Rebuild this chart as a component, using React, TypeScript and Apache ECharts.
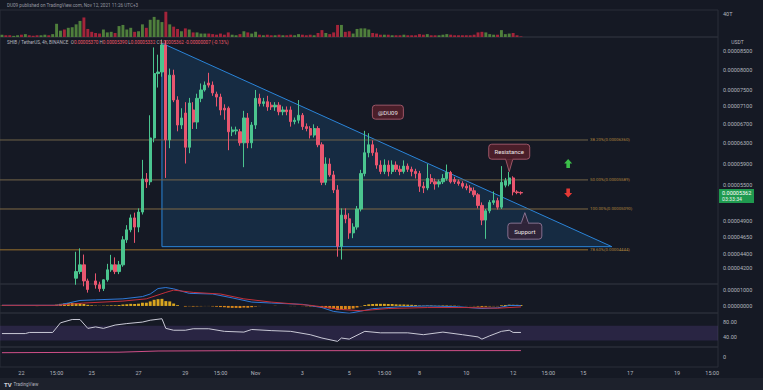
import React, { useEffect, useRef } from "react";
import * as echarts from "echarts";

const W = 763;
const H = 390;
const PLOT_W = 718;
const BG = "#151924";
const FOOTER_BG = "#1d212c";
const BORDER = "#2a2e39";
const TEXT = "#b2b5be";
const FONT = "Roboto, 'Noto Sans', sans-serif";
const UP = "#4bc58f";
const DOWN = "#e9566f";
const VOL_UP = "#4f7f3c";
const VOL_DOWN = "#a3243a";

// prices are listed in millionths of USDT
const UNIT = 1e-6;
const N_SLOTS = 184;
const START_UTC = Date.UTC(2021, 9, 21, 4);

const OPEN = [
  29.8, 30.0, 29.9, 29.7, 30.0, 30.2, 30.1, 30.6, 30.4, 30.3, 30.1, 30.3, 30.6, 30.5,
  31.0, 35.0, 36.4, 36.0, 37.5, 40.66, 41.54, 42.46, 40.3, 39.2, 40.3, 39.8, 39.3,
  40.45, 41.78, 42.46, 41.54, 42.46, 46.05, 47.57, 49.45, 48.0, 50.4, 56.1, 55.6, 64.1,
  79.0, 79.4, 86.7, 63.7, 78.6, 72.5, 66.85, 69.5, 62.2, 70.2, 67.5, 72.9, 74.9, 76.6,
  76.1, 73.9, 73.2, 70.6, 70.6, 65.4, 65.6, 65.4, 63.1, 68.4, 63.1, 66.85, 72.9, 71.7,
  72.1, 71.3, 70.9, 71.3, 69.8, 70.2, 70.2, 67.6, 67.9, 69.0, 66.5, 66.1, 64.7, 66.1,
  62.7, 55.5, 58.9, 56.85, 54.15, 45.1, 49.9, 49.3, 47.1, 48.0, 50.9, 57.1, 61.1, 62.7,
  61.1, 58.7, 57.5, 58.7, 57.5, 58.7, 57.9, 57.5, 58.5, 57.9, 57.5, 57.1, 54.8, 54.5,
  56.2, 55.6, 55.2, 55.6, 56.2, 57.3, 56.0, 55.6, 55.3, 54.8, 54.5, 54.0, 53.3, 51.5,
  49.1, 50.6, 52.0, 52.3, 51.2, 55.0, 55.2, 56.3, 53.8, 53.70,
];
const HIGH = [
  30.3, 30.4, 30.2, 30.1, 30.5, 30.6, 30.8, 30.9, 30.7, 30.6, 30.5, 30.8, 31.0, 31.2,
  35.6, 36.8, 37.0, 37.8, 39.8, 44.3, 44.8, 43.9, 40.6, 39.7, 41.3, 40.2, 40.5,
  42.6, 43.86, 43.5, 43.0, 46.6, 48.3, 50.0, 50.3, 51.0, 59.7, 57.2, 69.0, 86.0,
  84.0, 88.2, 88.0, 80.3, 80.0, 73.4, 70.6, 72.0, 73.0, 72.0, 74.0, 76.5, 77.0, 79.2,
  77.0, 74.5, 74.0, 71.5, 71.0, 66.5, 66.5, 66.0, 70.0, 69.5, 67.5, 74.9, 74.0, 73.0,
  73.5, 72.0, 72.0, 72.0, 71.0, 71.0, 71.0, 68.5, 72.5, 69.5, 67.2, 66.6, 67.0, 66.6,
  63.2, 60.2, 60.0, 57.6, 55.0, 51.0, 51.0, 50.2, 48.6, 51.4, 57.8, 65.6, 65.1, 63.6,
  62.0, 59.6, 59.8, 59.6, 59.6, 59.4, 58.6, 59.6, 59.0, 58.4, 58.0, 57.6, 55.6, 58.9,
  57.0, 56.2, 56.0, 57.0, 58.8, 57.6, 56.5, 56.0, 55.7, 55.3, 55.0, 54.6, 53.6, 52.0,
  50.9, 52.4, 53.9, 52.8, 58.5, 56.3, 57.4, 56.6, 54.1, 53.90,
];
const LOW = [
  29.5, 29.6, 29.4, 29.3, 29.8, 29.9, 30.0, 30.2, 30.0, 29.9, 29.8, 30.1, 30.3, 30.3,
  30.9, 34.5, 35.6, 35.8, 37.2, 39.8, 41.2, 39.6, 38.8, 38.2, 39.3, 38.9, 39.0,
  40.2, 41.5, 41.2, 41.2, 42.2, 45.6, 47.2, 45.6, 47.2, 50.0, 54.5, 55.0, 63.2,
  75.5, 78.2, 56.3, 62.0, 72.0, 65.5, 66.0, 59.0, 61.0, 66.0, 66.0, 72.0, 74.5, 75.5,
  73.5, 71.0, 69.0, 68.0, 61.6, 64.5, 64.8, 62.5, 58.3, 62.0, 62.0, 66.0, 71.0, 71.0,
  70.0, 70.2, 70.0, 69.0, 69.0, 69.0, 66.5, 67.0, 67.2, 65.8, 65.5, 64.0, 64.2, 62.2,
  55.0, 55.0, 56.5, 53.6, 43.6, 43.2, 48.6, 46.2, 46.3, 47.6, 50.5, 56.6, 60.2, 60.5,
  58.0, 57.0, 57.0, 56.6, 57.0, 57.4, 56.8, 57.1, 57.4, 56.6, 56.2, 53.8, 53.6, 54.1,
  55.2, 54.2, 54.6, 55.2, 55.8, 55.3, 55.2, 54.9, 54.4, 54.1, 53.6, 52.9, 51.0, 48.3,
  46.2, 50.2, 51.6, 50.8, 50.9, 54.6, 54.8, 53.2, 53.4, 53.32,
];
const CLOSE = [
  30.0, 29.9, 29.7, 30.0, 30.2, 30.1, 30.6, 30.4, 30.3, 30.1, 30.3, 30.6, 30.5, 31.0,
  35.0, 36.4, 36.0, 37.5, 39.4, 41.54, 42.46, 40.3, 39.2, 38.6, 39.8, 39.3, 40.45,
  41.78, 42.46, 41.54, 42.46, 46.05, 47.57, 49.45, 48.0, 50.4, 56.1, 55.6, 64.1, 79.0,
  79.4, 86.7, 63.7, 78.6, 72.5, 66.85, 68.4, 62.2, 71.8, 67.5, 72.9, 74.9, 76.1, 76.1,
  74.2, 73.2, 70.2, 70.2, 65.4, 65.8, 65.8, 63.1, 68.4, 63.1, 66.85, 72.9, 71.7, 72.1,
  70.9, 70.9, 71.3, 69.8, 70.2, 69.8, 67.6, 67.9, 69.0, 66.5, 66.1, 64.7, 66.1, 62.7,
  55.5, 58.9, 56.85, 54.15, 45.1, 49.9, 49.3, 47.1, 48.0, 50.9, 57.1, 61.1, 62.7, 61.1,
  58.7, 57.5, 58.7, 57.5, 58.7, 57.9, 57.5, 58.5, 57.9, 57.5, 57.1, 54.8, 54.5, 56.2,
  55.6, 55.2, 55.6, 56.2, 57.3, 55.6, 55.6, 55.3, 54.8, 54.5, 54.0, 53.3, 51.5, 49.1,
  50.6, 52.0, 52.3, 51.2, 55.5, 55.8, 56.3, 53.8, 53.69, 53.62,
];
// volume, trillions of SHIB
const VOLUME = [
  4, 3, 3, 2, 3, 4, 5, 3, 2, 3, 3, 4, 3, 5,
  23, 11, 13, 16, 17, 22, 28,
  34, 14, 9, 7, 6, 13, 8, 9, 7,
  19, 21, 13, 16, 9, 10, 22, 16, 30, 35,
  30, 26, 44, 22, 18, 14, 10, 15, 13, 8,
  8, 6, 6, 6, 5, 4, 6, 4, 8, 4,
  3, 5, 10, 8, 6, 9, 4, 3, 4, 3,
  3, 4, 3, 3, 4, 3, 5, 4, 3, 4,
  3, 7, 12, 7, 5, 8, 21, 21, 9, 10,
  6, 14, 15, 15, 13, 7, 6, 4, 4, 4,
  3, 3, 3, 4, 3, 3, 3, 5, 4, 5,
  3, 3, 3, 4, 5, 4, 3, 3, 3, 3,
  3, 4, 8, 9, 8, 5, 4, 4, 12, 5,
  6, 7, 3, 1,
];
// MACD values in units of 1e-5
const MACD_HIST = [
  0.01, 0, -0.01, 0, 0.01, 0, 0.01, 0, 0, -0.01, 0, 0.01, 0, 0.01,
  0.08, 0.13, 0.15, 0.18, 0.19, 0.18, 0.17,
  0.12, 0.07, 0.04, 0.02, 0.01, 0.02, 0.03, 0.04, 0.04,
  0.06, 0.09, 0.11, 0.13, 0.12, 0.14, 0.2, 0.2, 0.28, 0.38,
  0.42, 0.44, 0.3, 0.28, 0.15, 0.05, 0, -0.04, -0.02, -0.04,
  -0.03, -0.02, -0.01, -0.01, -0.03, -0.05, -0.07, -0.08, -0.11, -0.12,
  -0.12, -0.13, -0.1, -0.11, -0.08, -0.03, -0.01, 0, 0, 0,
  0.01, 0, 0, 0, -0.01, -0.01, 0, -0.01, -0.02, -0.03,
  -0.03, -0.06, -0.12, -0.13, -0.15, -0.18, -0.25, -0.22, -0.2, -0.2,
  -0.16, -0.1, -0.02, 0.06, 0.1, 0.12, 0.13, 0.13, 0.13, 0.12,
  0.12, 0.1, 0.09, 0.09, 0.08, 0.07, 0.06, 0.03, 0.02, 0.03,
  0.03, 0.02, 0.02, 0.03, 0.03, 0.02, 0.02, 0.01, 0, -0.01,
  -0.01, -0.02, -0.04, -0.06, -0.05, -0.03, -0.02, -0.02, 0.04, 0.06,
  0.08, 0.07, 0.07, 0.06,
];
const MACD_LINE: [number, number][] = [
  [0, 0.04], [14, 0.04], [17, 0.18], [20, 0.34], [24, 0.38], [31, 0.44], [36, 0.58],
  [38, 0.74], [40, 1.08], [42, 1.14], [44, 1.06], [48, 0.78], [54, 0.74], [59, 0.5],
  [64, 0.24], [69, 0.18], [77, 0.1], [82, -0.1], [85, -0.34], [89, -0.46], [92, -0.32],
  [95, -0.17], [102, -0.05], [109, 0], [117, -0.05], [123, -0.16], [127, -0.12],
  [130, 0.03], [133, 0.02],
];
const SIGNAL_LINE: [number, number][] = [
  [0, 0.04], [14, 0.04], [21, 0.18], [31, 0.3], [37, 0.44], [42, 0.84], [44, 0.98],
  [49, 0.84], [56, 0.74], [62, 0.44], [69, 0.24], [79, 0.04], [87, -0.22], [92, -0.3],
  [99, -0.16], [109, -0.1], [119, -0.1], [127, -0.14], [133, -0.06],
];
const RSI_POINTS: [number, number][] = [
  [0, 49], [6, 49], [7, 52], [13, 52], [15, 78], [18, 87], [20, 87], [22, 63], [24, 67],
  [26, 63], [29, 72], [32, 76], [36, 80], [38, 85], [41, 89], [42, 63], [44, 58], [47, 58],
  [49, 62], [53, 62], [57, 55], [62, 53], [64, 60], [69, 57], [74, 55], [79, 46], [82, 37],
  [86, 28], [87, 37], [89, 34], [93, 55], [97, 51], [104, 51], [108, 46], [113, 53],
  [118, 46], [122, 40], [123, 34], [125, 43], [128, 55], [130, 58], [131, 52], [133, 52],
];
const EXTRA_POINTS: [number, number][] = [[0, 4.3], [30, 4.8], [40, 6.0], [60, 6.3], [133, 6.4]];

const PRICE_TICKS = [85, 80, 75, 71, 67, 63, 59, 55, 49, 46.5, 44, 42];
const TIME_LABELS: [number, string][] = [
  [5, "22"], [14, "15:00"], [23, "25"], [35, "27"], [47, "29"], [56, "15:00"], [65, "Nov"],
  [77, "3"], [89, "5"], [98, "15:00"], [107, "8"], [119, "10"], [131, "12"], [140, "15:00"],
  [149, "15"], [161, "17"], [173, "19"], [182, "15:00"],
];

// drawing anchors (candle index, price)
const FIB_PRICES = [63.68, 55.94, 50.9, 44.58];
const FIB_TEXTS = ["38.20%(0.00006360)", "50.00%(0.00005589)", "100.00%(0.00005090)", "78.60%(0.00004444)"];
const FIB_END_INDEX = 150.2;
const TRI_START_INDEX = 41;
const TRI_END_INDEX = 156.3;
const TRI_TOP_PRICE = 87.2;
const TRI_BASE_PRICE = 45.04;
const RESIST_TIP: [number, number] = [130, 57.45];
const SUPPORT_TIP: [number, number] = [134, 50.3];
const TAG_AT: [number, number] = [98.9, 69.7];
const UP_ARROW_AT: [number, number] = [145.1, 59.0];
const DOWN_ARROW_AT: [number, number] = [145.1, 53.6];

const lg = (p: number) => Math.log(p * UNIT);
const pad = (n: number) => String(n).padStart(2, "0");
const fmt8 = (p: number) => (p * UNIT).toFixed(8);

function buildOption(): any {
  const cats = Array.from({ length: N_SLOTS }, (_, i) => {
    const d = new Date(START_UTC + i * 4 * 3600e3 + 3 * 3600e3);
    return `${d.getUTCFullYear()}-${pad(d.getUTCMonth() + 1)}-${pad(d.getUTCDate())} ${pad(d.getUTCHours())}:00`;
  });
  const labelMap = new Map<number, string>(TIME_LABELS);
  const candleData = OPEN.map((o, i) => [lg(o), lg(CLOSE[i]), lg(LOW[i]), lg(HIGH[i])]);
  const volData = VOLUME.map((v, i) => ({
    value: v,
    itemStyle: { color: CLOSE[i] >= OPEN[i] ? VOL_UP : VOL_DOWN },
  }));
  const histData = MACD_HIST.map((v) => ({
    value: v * 1e-5,
    itemStyle: { color: v >= 0 ? "#d9a620" : "#d9861a" },
  }));
  const lab = { color: TEXT, fontSize: 5.5, fontFamily: FONT, margin: 5 };
  const gridDefs = [
    { top: 10, height: 27 },
    { top: 37, height: 247 },
    { top: 284, height: 29 },
    { top: 313, height: 34 },
    { top: 347, height: 20 },
  ];
  const grid = gridDefs.map((g) => ({
    left: 0,
    width: PLOT_W,
    top: g.top,
    height: g.height,
    show: true,
    borderColor: BORDER,
    borderWidth: 1,
    backgroundColor: "transparent",
  }));
  const xAxis = gridDefs.map((_, k) => ({
    type: "category",
    gridIndex: k,
    data: cats,
    boundaryGap: true,
    axisLine: { show: false },
    axisTick: { show: false },
    splitLine: { show: false },
    axisLabel:
      k === 4
        ? {
            show: true,
            interval: (idx: number) => labelMap.has(idx),
            formatter: (_v: string, idx: number) => labelMap.get(idx) ?? "",
            color: TEXT,
            fontSize: 5.5,
            fontFamily: FONT,
            margin: 3,
            hideOverlap: false,
          }
        : { show: false },
  }));
  const baseY = {
    type: "value",
    position: "right",
    axisLine: { show: false },
    axisTick: { show: false },
    splitLine: { show: false },
  };
  const yAxis = [
    { ...baseY, gridIndex: 0, min: 0, max: 47, axisLabel: { ...lab, customValues: [40], formatter: (v: number) => `${v}T` } },
    {
      ...baseY,
      gridIndex: 1,
      min: lg(39.9),
      max: lg(88.96),
      axisLabel: { ...lab, customValues: PRICE_TICKS.map(lg), formatter: (v: number) => Math.exp(v).toFixed(8) },
    },
    {
      ...baseY,
      gridIndex: 2,
      min: -0.437e-5,
      max: 1.36e-5,
      axisLabel: { ...lab, customValues: [0, 1e-5], formatter: (v: number) => v.toFixed(8) },
    },
    { ...baseY, gridIndex: 3, min: 12.8, max: 104.5, axisLabel: { ...lab, customValues: [40, 80], formatter: (v: number) => v.toFixed(2) } },
    { ...baseY, gridIndex: 4, min: -10, max: 10, axisLabel: { ...lab, customValues: [0], formatter: () => "0" } },
  ];
  return {
    animation: false,
    backgroundColor: BG,
    grid,
    xAxis,
    yAxis,
    series: [
      { type: "bar", xAxisIndex: 0, yAxisIndex: 0, data: volData, barWidth: "75%", silent: true },
      {
        type: "candlestick",
        xAxisIndex: 1,
        yAxisIndex: 1,
        data: candleData,
        barWidth: "70%",
        clip: true,
        z: 5,
        itemStyle: { color: UP, color0: DOWN, borderColor: UP, borderColor0: DOWN, borderWidth: 1 },
      },
      { type: "bar", xAxisIndex: 2, yAxisIndex: 2, data: histData, barWidth: "75%", silent: true },
      {
        type: "line",
        xAxisIndex: 2,
        yAxisIndex: 2,
        data: MACD_LINE.map(([i, v]) => [i, v * 1e-5]),
        showSymbol: false,
        lineStyle: { color: "#2f7ad9", width: 1 },
      },
      {
        type: "line",
        xAxisIndex: 2,
        yAxisIndex: 2,
        data: SIGNAL_LINE.map(([i, v]) => [i, v * 1e-5]),
        showSymbol: false,
        lineStyle: { color: "#c4303a", width: 1 },
      },
      {
        type: "line",
        xAxisIndex: 3,
        yAxisIndex: 3,
        data: RSI_POINTS,
        showSymbol: false,
        lineStyle: { color: "#c9c9d6", width: 1 },
        markArea: {
          silent: true,
          itemStyle: { color: "rgba(126,87,194,0.2)" },
          data: [[{ yAxis: 30 }, { yAxis: 70 }]],
        },
      },
      {
        type: "line",
        xAxisIndex: 4,
        yAxisIndex: 4,
        data: EXTRA_POINTS,
        showSymbol: false,
        lineStyle: { color: "#cf4f88", width: 1 },
      },
    ],
  };
}

function txt(text: string, x: number, y: number, fill: string, size: number, align = "left", z = 50, extra: any = {}) {
  return {
    type: "text",
    z,
    silent: true,
    style: {
      text,
      x,
      y,
      fill,
      fontSize: size,
      fontFamily: FONT,
      align,
      textAlign: align,
      verticalAlign: "middle",
      textVerticalAlign: "middle",
      ...extra,
    },
  };
}

function buildGraphics(chart: any): any[] {
  const x0 = chart.convertToPixel({ xAxisIndex: 1 }, 0) as number;
  const x1 = chart.convertToPixel({ xAxisIndex: 1 }, 1) as number;
  const X = (i: number) => x0 + (x1 - x0) * i;
  const Y = (p: number) => chart.convertToPixel({ yAxisIndex: 1 }, lg(p)) as number;
  const g: any[] = [];

  // footer strip
  g.push({ type: "rect", silent: true, z: 1, shape: { x: 0, y: 378, width: W, height: 12 }, style: { fill: FOOTER_BG } });
  g.push(txt("TV", 4, 384, "#d1d4dc", 6, "left", 50, { fontWeight: "bold" }));
  g.push(txt("TradingView", 13.5, 384, "#b2b5be", 4.5));

  // header
  g.push(txt("DU09 published on TradingView.com, Nov 12, 2021 11:26 UTC+3", 7, 5, "#9598a1", 4.6));

  // legend
  const n = CLOSE.length - 1;
  const chg = CLOSE[n] - CLOSE[n - 1];
  const pct = (chg / CLOSE[n - 1]) * 100;
  const chgStr = `${chg < 0 ? "-" : "+"}${fmt8(Math.abs(chg))} (${pct < 0 ? "-" : "+"}${Math.abs(pct).toFixed(2)}%)`;
  const legend =
    `{g|SHIB / TetherUS, 4h, BINANCE}  {g|O}{r|${fmt8(OPEN[n])}} {g|H}{r|${fmt8(HIGH[n])}} ` +
    `{g|L}{r|${fmt8(LOW[n])}} {g|C}{r|${fmt8(CLOSE[n])}} {r|${chgStr}}`;
  g.push(
    txt(legend, 7, 42, TEXT, 4.6, "left", 50, {
      rich: {
        g: { fill: "#b2b5be", fontSize: 4.6, fontFamily: FONT },
        r: { fill: "#ef5a6a", fontSize: 4.6, fontFamily: FONT },
      },
    })
  );
  g.push(txt("USDT", 737.5, 42, TEXT, 5, "center"));

  // descending triangle
  const tl: [number, number] = [X(TRI_START_INDEX), Y(TRI_TOP_PRICE)];
  const bl: [number, number] = [X(TRI_START_INDEX), Y(TRI_BASE_PRICE)];
  const br: [number, number] = [X(TRI_END_INDEX), Y(TRI_BASE_PRICE)];
  g.push({
    type: "polygon",
    silent: true,
    z: 1,
    shape: { points: [tl, bl, br] },
    style: { fill: "rgba(33,150,243,0.15)", stroke: "#2a84d8", lineWidth: 1 },
  });

  // fib levels
  const fibColors = ["#6f6349", "#75664a", "#7f6a45", "#98702e"];
  FIB_PRICES.forEach((p, k) => {
    const y = Y(p);
    g.push({
      type: "line",
      silent: true,
      z: 2,
      shape: { x1: 0, y1: y, x2: X(FIB_END_INDEX), y2: y },
      style: { stroke: fibColors[k], lineWidth: 1 },
    });
    g.push(txt(FIB_TEXTS[k], X(FIB_END_INDEX) + 2, y, "#b0843c", 4.3));
  });

  // callouts
  const boxFill = "#4a1e29";
  const boxStroke = "#9c5566";
  const tag = [X(TAG_AT[0]), Y(TAG_AT[1])];
  g.push({ type: "rect", z: 60, silent: true, shape: { x: tag[0] - 15.5, y: tag[1] - 7, width: 31, height: 14, r: 3 }, style: { fill: boxFill, stroke: boxStroke, lineWidth: 1 } });
  g.push(txt("@DU09", tag[0], tag[1], "#e6e0e3", 6, "center", 80));

  const rt = [X(RESIST_TIP[0]), Y(RESIST_TIP[1])];
  const rcy = rt[1] - 20;
  g.push({ type: "polygon", z: 60, silent: true, shape: { points: [[rt[0] - 4, rcy + 6], [rt[0] + 4, rcy + 6], [rt[0], rt[1]]] }, style: { fill: boxFill, stroke: boxStroke, lineWidth: 1 } });
  g.push({ type: "rect", z: 61, silent: true, shape: { x: rt[0] - 20.5, y: rcy - 7.5, width: 41, height: 15, r: 3 }, style: { fill: boxFill, stroke: boxStroke, lineWidth: 1 } });
  g.push({ type: "rect", z: 62, silent: true, shape: { x: rt[0] - 3.3, y: rcy + 6, width: 6.6, height: 2 }, style: { fill: boxFill } });
  g.push(txt("Resistance", rt[0], rcy, "#ece6e8", 6, "center", 80));

  const sFill = "#2f2439";
  const sStroke = "#86708f";
  const st = [X(SUPPORT_TIP[0]), Y(SUPPORT_TIP[1])];
  const scy = st[1] + 18.5;
  g.push({ type: "polygon", z: 60, silent: true, shape: { points: [[st[0] - 4, scy - 7], [st[0] + 4, scy - 7], [st[0], st[1]]] }, style: { fill: sFill, stroke: sStroke, lineWidth: 1 } });
  g.push({ type: "rect", z: 61, silent: true, shape: { x: st[0] - 17, y: scy - 8, width: 34, height: 16, r: 3 }, style: { fill: sFill, stroke: sStroke, lineWidth: 1 } });
  g.push({ type: "rect", z: 62, silent: true, shape: { x: st[0] - 3.3, y: scy - 9, width: 6.6, height: 2 }, style: { fill: sFill } });
  g.push(txt("Support", st[0], scy, "#ece6e8", 6, "center", 80));

  // arrows
  const ua = [X(UP_ARROW_AT[0]), Y(UP_ARROW_AT[1])];
  g.push({
    type: "polygon",
    z: 60,
    silent: true,
    shape: {
      points: [
        [ua[0], ua[1] - 4.5], [ua[0] + 4, ua[1]], [ua[0] + 1.8, ua[1]], [ua[0] + 1.8, ua[1] + 4.5],
        [ua[0] - 1.8, ua[1] + 4.5], [ua[0] - 1.8, ua[1]], [ua[0] - 4, ua[1]],
      ],
    },
    style: { fill: "#3cbf4a" },
  });
  const da = [X(DOWN_ARROW_AT[0]), Y(DOWN_ARROW_AT[1])];
  g.push({
    type: "polygon",
    z: 60,
    silent: true,
    shape: {
      points: [
        [da[0], da[1] + 4.5], [da[0] + 4, da[1]], [da[0] + 1.8, da[1]], [da[0] + 1.8, da[1] - 4.5],
        [da[0] - 1.8, da[1] - 4.5], [da[0] - 1.8, da[1]], [da[0] - 4, da[1]],
      ],
    },
    style: { fill: "#e53935" },
  });

  // last price label on the axis
  const py = Y(CLOSE[n]);
  g.push({ type: "rect", z: 70, silent: true, shape: { x: PLOT_W + 1, y: py - 4, width: 35, height: 14 }, style: { fill: "#1f9a4f" } });
  g.push(txt(fmt8(CLOSE[n]), PLOT_W + 4, py, "#ffffff", 5.5, "left", 80));
  g.push(txt("03:33:34", PLOT_W + 4, py + 6.2, "#e8f5ec", 5.2, "left", 80));
  return g;
}

export default function App() {
  const ref = useRef<HTMLDivElement | null>(null);
  useEffect(() => {
    if (!ref.current) return;
    const chart = echarts.init(ref.current, undefined, { renderer: "svg", width: W, height: H });
    chart.setOption(buildOption());
    chart.setOption({ graphic: { elements: buildGraphics(chart) } });
    return () => chart.dispose();
  }, []);
  return (
    <div
      ref={ref}
      style={{ position: "absolute", left: 0, top: 0, width: W, height: H, background: BG }}
    />
  );
}
